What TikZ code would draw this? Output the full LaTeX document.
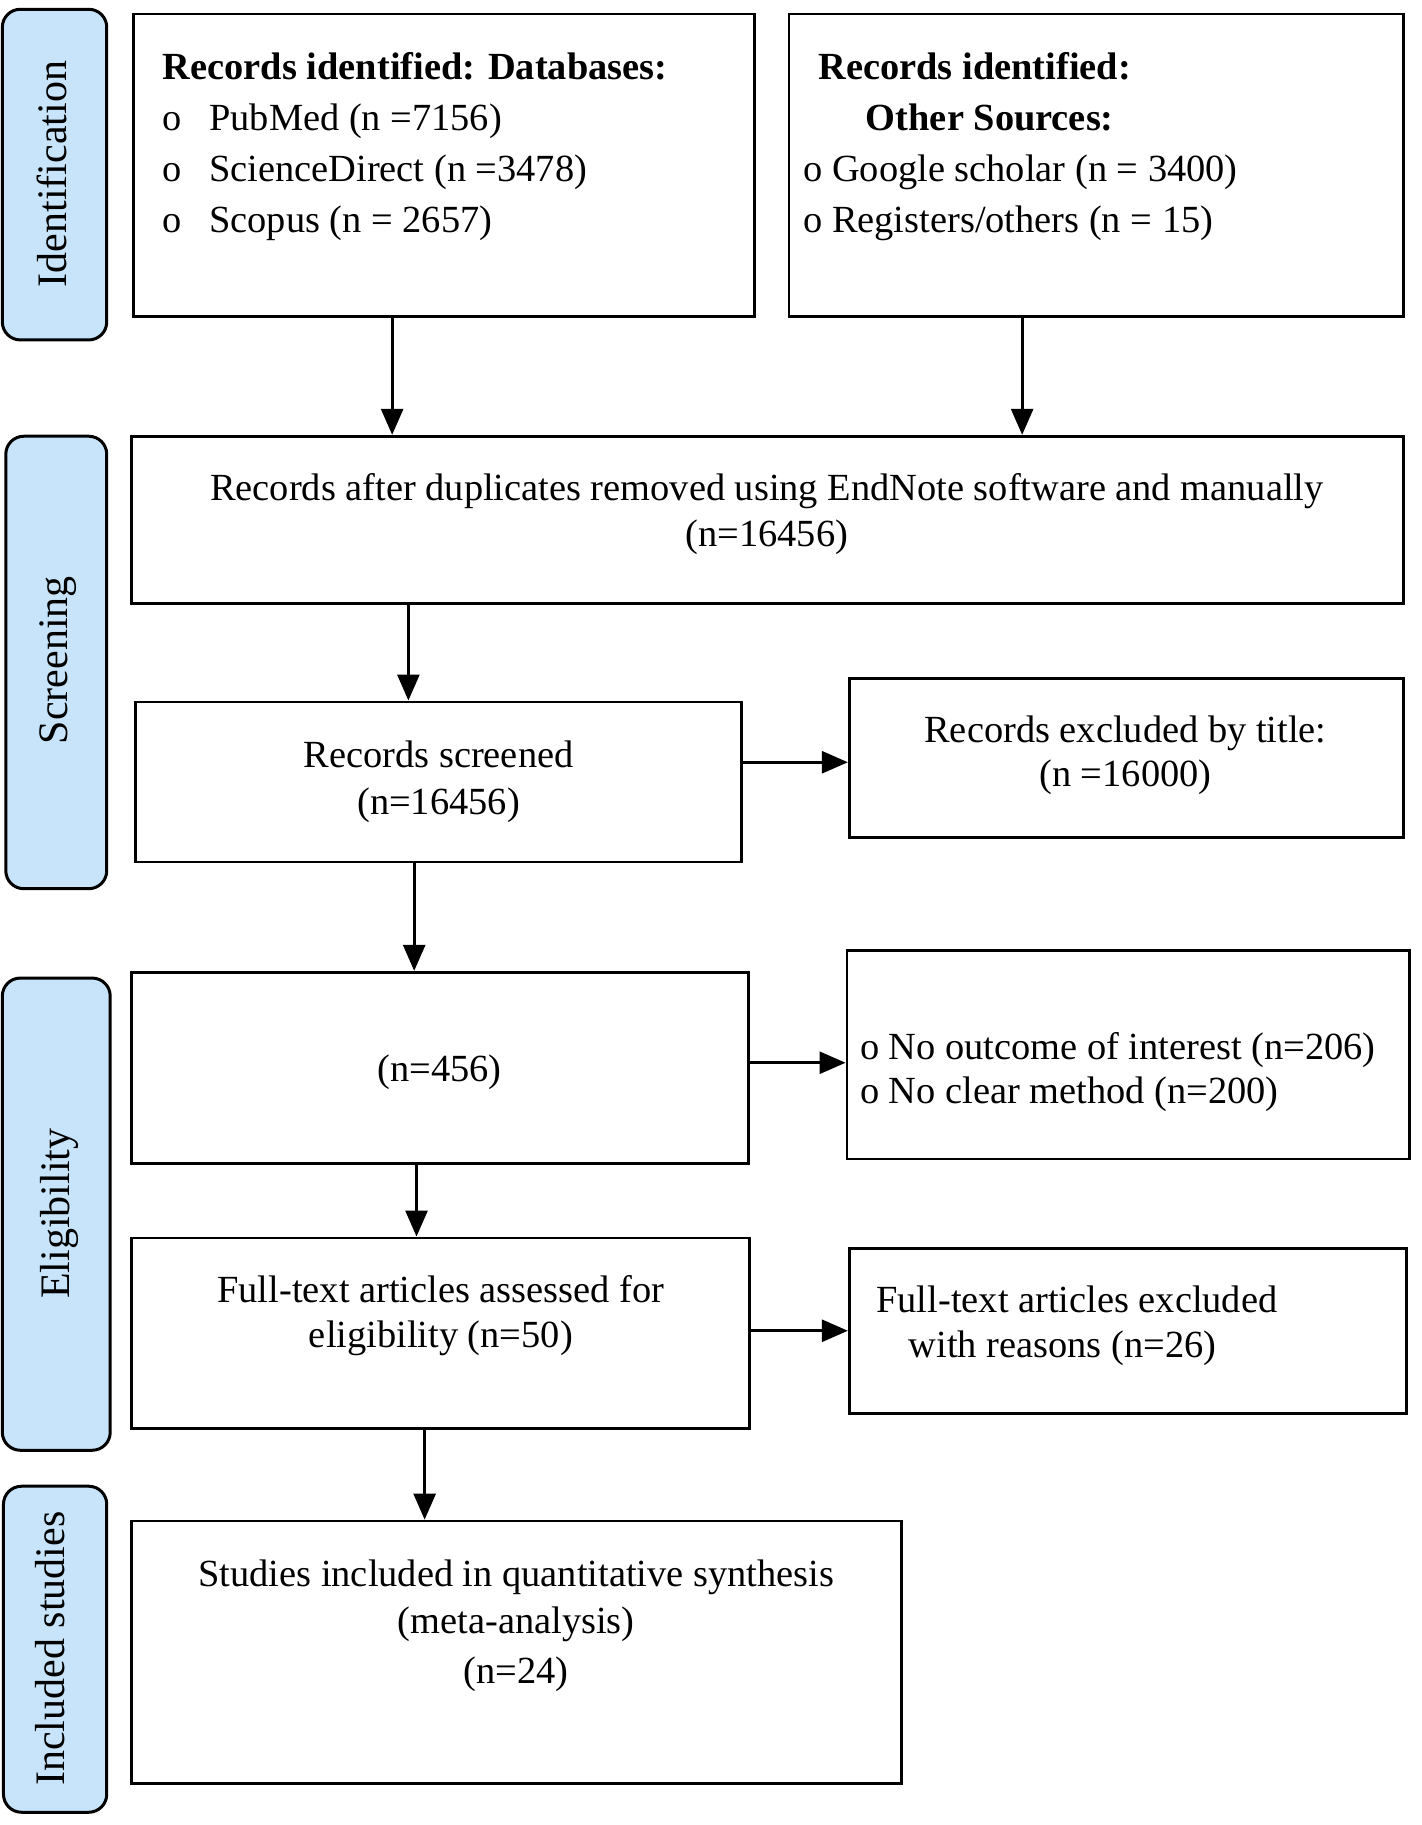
\documentclass[tikz,border=0pt]{standalone}
\usepackage{fontspec}
\setmainfont{Liberation Serif}
\usetikzlibrary{arrows.meta}
\definecolor{sidefill}{RGB}{199,228,250}
\newcommand\mybox[6][box]{\node[#1, minimum width={(#5-#3)*0.58pt}, minimum height={(#6-#4)*0.58pt}] (#2) at ({(#3+#5)/2},{(#4+#6)/2}) {};}
\begin{document}
\begin{tikzpicture}[x=0.58pt,y=-0.58pt,
  box/.style={draw, line width=1.4pt, inner sep=0},
  side/.style={draw, line width=1.5pt, rounded corners=9pt, fill=sidefill, inner sep=0},
  txt/.style={inner sep=0, yshift=-4pt, font=\fontsize{19.2pt}{23pt}\selectfont, text height=0.72em, text depth=0.22em},
  btxt/.style={txt, font=\fontsize{19.2pt}{23pt}\selectfont\bfseries},
  sidetxt/.style={inner sep=0, rotate=90, font=\fontsize{21pt}{25pt}\selectfont, text height=0.72em, text depth=0.22em},
  arr/.style={line width=1.4pt, -{Triangle[length=13pt,width=11pt]}}]
\useasboundingbox (0,0) rectangle (1225,1573);
% side boxes
\mybox[side]{s1}{2}{8}{92}{293}
\mybox[side]{s2}{5}{376}{92}{766}
\mybox[side]{s3}{2}{843}{95}{1250}
\mybox[side]{s4}{3}{1281}{92}{1562}
\node[sidetxt] (l1) at (53,150) {Identification};
\node[sidetxt] (l2) at (54,569) {Screening};
\node[sidetxt] (l3) at (56,1046) {Eligibility};
\node[sidetxt] (l4) at (51,1421) {Included studies};
% main boxes
\mybox{db}{115}{12}{650}{273}
\mybox{oth}{680}{12}{1210}{273}
\mybox{dup}{113}{376}{1210}{520}
\mybox{scr}{117}{605}{639}{743}
\mybox{exc}{732}{585}{1210}{722}
\mybox{elig}{113}{838}{645}{1003}
\mybox{noout}{730}{819}{1215}{999}
\mybox{ft}{113}{1067}{646}{1231}
\mybox{ftex}{732}{1076}{1212}{1218}
\mybox{inc}{113}{1311}{777}{1537}
% texts
\node[btxt, anchor=west] (t1) at (140,57) {Records identified: Databases:};
\node[txt, anchor=west] (t2a) at (140,101) {o};
\node[txt, anchor=west] (t2b) at (180,101) {PubMed (n =7156)};
\node[txt, anchor=west] (t3a) at (140,145) {o};
\node[txt, anchor=west] (t3b) at (180,145) {ScienceDirect (n =3478)};
\node[txt, anchor=west] (t4a) at (140,189) {o};
\node[txt, anchor=west] (t4b) at (180,189) {Scopus (n = 2657)};
\node[btxt, anchor=west] (u1) at (705,57) {Records identified:};
\node[btxt, anchor=west] (u2) at (746,101) {Other Sources:};
\node[txt, anchor=west] (u3) at (692,145) {o Google scholar (n = 3400)};
\node[txt, anchor=west] (u4) at (692,189) {o Registers/others (n = 15)};
\node[txt] (d1) at (661,420) {Records after duplicates removed using EndNote software and manually};
\node[txt] (d2) at (661,460) {(n=16456)};
\node[txt] (r1) at (378,650) {Records screened};
\node[txt] (r2) at (378,691) {(n=16456)};
\node[txt] (e1) at (970,629) {Records excluded by title:};
\node[txt] (e2) at (970,667) {(n =16000)};
\node[txt] (g1) at (379,921) {(n=456)};
\node[txt, anchor=west] (o1) at (741,902) {o No outcome of interest (n=206)};
\node[txt, anchor=west] (o2) at (741,940) {o No clear method (n=200)};
\node[txt] (f1) at (380,1111) {Full-text articles assessed for};
\node[txt] (f2) at (380,1150) {eligibility (n=50)};
\node[txt, anchor=west] (x1) at (755,1120) {Full-text articles excluded};
\node[txt, anchor=west] (x2) at (783,1159) {with reasons (n=26)};
\node[txt] (i1) at (445,1356) {Studies included in quantitative synthesis};
\node[txt] (i2) at (445,1397) {(meta-analysis)};
\node[txt] (i3) at (445,1440) {(n=24)};
% arrows
\coordinate (c1) at (338,0);
\coordinate (c2) at (881,0);
\coordinate (c3) at (352,0);
\coordinate (c4) at (357,0);
\coordinate (c5) at (359,0);
\coordinate (c6) at (366,0);
\coordinate (h1) at (0,657);
\coordinate (h2) at (0,916);
\coordinate (h3) at (0,1147);
\draw[arr] (db.south -| c1) -- (dup.north -| c1);
\draw[arr] (oth.south -| c2) -- (dup.north -| c2);
\draw[arr] (dup.south -| c3) -- (scr.north -| c3);
\draw[arr] (scr.south -| c4) -- (elig.north -| c4);
\draw[arr] (elig.south -| c5) -- (ft.north -| c5);
\draw[arr] (ft.south -| c6) -- (inc.north -| c6);
\draw[arr] (scr.east |- h1) -- (exc.west |- h1);
\draw[arr] (elig.east |- h2) -- (noout.west |- h2);
\draw[arr] (ft.east |- h3) -- (ftex.west |- h3);
\end{tikzpicture}
\end{document}
